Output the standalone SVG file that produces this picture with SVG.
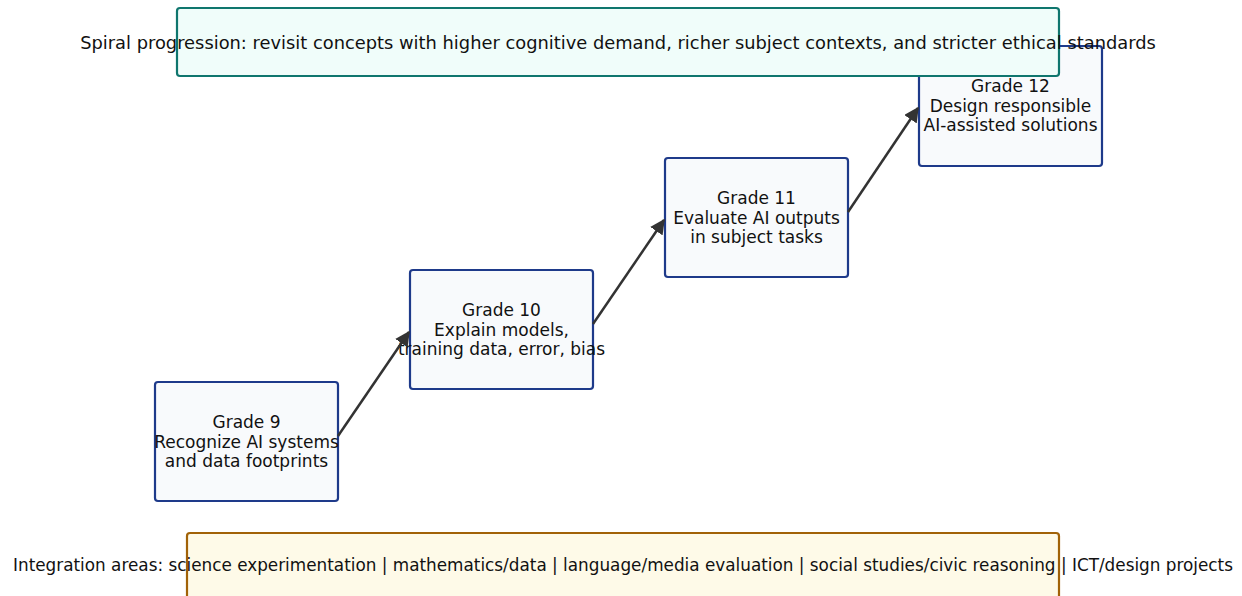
<svg xmlns="http://www.w3.org/2000/svg" width="1242" height="596" viewBox="0 0 1242 596">
<style>
text{font-family:"DejaVu Sans",sans-serif;font-size:17px;fill:#111;text-anchor:middle;dominant-baseline:central}
.banner text{font-size:17.85px}
.banner text.wide{font-size:17px}
.node rect{fill:#f8fafc;stroke:#1e3a8a;stroke-width:2.2}
.edge{stroke:#333;stroke-width:2.5;fill:none;marker-end:url(#ah)}
</style>
<defs>
<marker id="ah" viewBox="0 0 10 10" refX="9" refY="5" markerWidth="6" markerHeight="6" markerUnits="strokeWidth" orient="auto">
<path d="M0,0 L10,5 L0,10 z" fill="#333"/>
</marker>
</defs>
<g id="grade9" class="node"><rect x="155" y="382" width="183" height="119" rx="3"/>
<text x="246.5" y="422">Grade 9</text><text x="246.5" y="442">Recognize AI systems</text><text x="246.5" y="461">and data footprints</text></g>
<g id="grade10" class="node"><rect x="410" y="270" width="183" height="119" rx="3"/>
<text x="501.5" y="310">Grade 10</text><text x="501.5" y="330">Explain models,</text><text x="501.5" y="349">training data, error, bias</text></g>
<g id="grade11" class="node"><rect x="665" y="158" width="183" height="119" rx="3"/>
<text x="756.5" y="198">Grade 11</text><text x="756.5" y="218">Evaluate AI outputs</text><text x="756.5" y="237">in subject tasks</text></g>
<g id="grade12" class="node"><rect x="919" y="46" width="183" height="120" rx="3"/>
<text x="1010.5" y="86">Grade 12</text><text x="1010.5" y="106">Design responsible</text><text x="1010.5" y="125">AI-assisted solutions</text></g>
<g id="connectors">
<line class="edge" x1="338" y1="436" x2="409" y2="332"/>
<line class="edge" x1="593" y1="324" x2="664" y2="220"/>
<line class="edge" x1="848" y1="212" x2="918" y2="108"/>
</g>
<g id="banner-top" class="banner"><rect x="177" y="8" width="882" height="68" rx="3" fill="#f0fdfa" stroke="#0f766e" stroke-width="2.2"/>
<text x="618" y="42">Spiral progression: revisit concepts with higher cognitive demand, richer subject contexts, and stricter ethical standards</text></g>
<g id="banner-bottom" class="banner"><rect x="187" y="533" width="872" height="70" rx="3" fill="#fefae8" stroke="#a16207" stroke-width="2.2"/>
<text class="wide" x="623" y="565" textLength="1220" lengthAdjust="spacingAndGlyphs">Integration areas: science experimentation | mathematics/data | language/media evaluation | social studies/civic reasoning | ICT/design projects</text></g>
</svg>
